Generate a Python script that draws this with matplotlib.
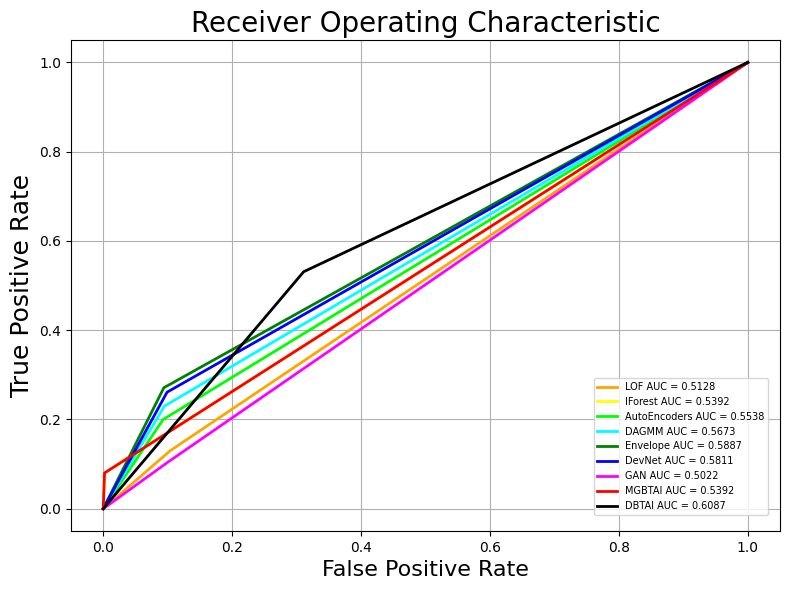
import numpy as np
import matplotlib.pyplot as plt

# ROC points (fpr, tpr)
names = ['LOF', 'IForest', 'AutoEncoders', 'DAGMM', 'Envelope', 'DevNet', 'GAN', 'MGBTAI', 'DBTAI']
aucs = [0.5128, 0.5392, 0.5538, 0.5673, 0.5887, 0.5811, 0.5022, 0.5392, 0.6087]
colors = ['orange', 'yellow', 'lime', 'cyan', 'green', 'blue', 'magenta', 'red', 'black']

fpr_lof = [0.0, 0.104, 1.0]
tpr_lof = [0.0, 0.130, 1.0]
fpr_if = [0.0, 0.002, 1.0]
tpr_if = [0.0, 0.080, 1.0]
fpr_ae = [0.0, 0.093, 1.0]
tpr_ae = [0.0, 0.200, 1.0]
fpr_dagmm = [0.0, 0.095, 1.0]
tpr_dagmm = [0.0, 0.230, 1.0]
fpr_env = [0.0, 0.094, 1.0]
tpr_env = [0.0, 0.271, 1.0]
fpr_dev = [0.0, 0.099, 1.0]
tpr_dev = [0.0, 0.261, 1.0]
fpr_gan = [0.0, 0.100, 1.0]
tpr_gan = [0.0, 0.104, 1.0]
fpr_mgb = [0.0, 0.002, 1.0]
tpr_mgb = [0.0, 0.080, 1.0]
fpr_dbt = [0.0, 0.311, 1.0]
tpr_dbt = [0.0, 0.531, 1.0]

fprs = [fpr_lof, fpr_if, fpr_ae, fpr_dagmm, fpr_env, fpr_dev, fpr_gan, fpr_mgb, fpr_dbt]
tprs = [tpr_lof, tpr_if, tpr_ae, tpr_dagmm, tpr_env, tpr_dev, tpr_gan, tpr_mgb, tpr_dbt]

fig = plt.figure(figsize=(7.89, 5.9), dpi=100)
for n, a, c, f, t in zip(names, aucs, colors, fprs, tprs):
    plt.plot(f, t, color=c, lw=2, label='%s AUC = %.4f' % (n, a))
plt.legend(loc='lower right', bbox_to_anchor=(0.983, 0.033), borderaxespad=0, fontsize=7)
plt.grid(True)
plt.xlabel('False Positive Rate', fontsize=16)
plt.ylabel('True Positive Rate', fontsize=18)
plt.title('Receiver Operating Characteristic', fontsize=20)
fig.subplots_adjust(left=0.090, right=0.9886, top=0.932, bottom=0.100)
plt.savefig('out.png')
